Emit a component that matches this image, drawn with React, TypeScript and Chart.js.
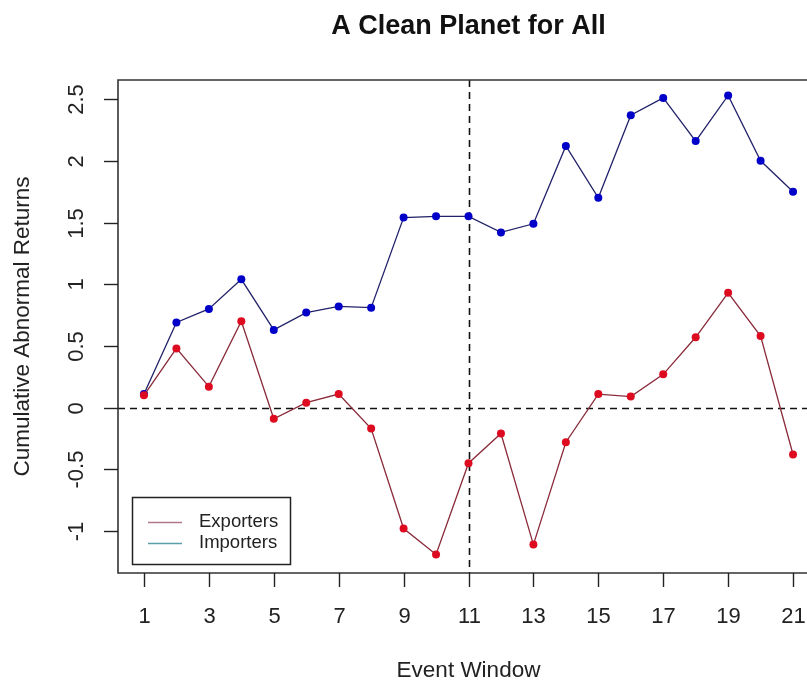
import React, { useEffect, useRef } from "react";
import { Chart, registerables } from "chart.js";

Chart.register(...registerables);

const titleText = "A Clean Planet for All";
const xTitle = "Event Window";
const yTitle = "Cumulative Abnormal Returns";
const eventWindow = [1, 2, 3, 4, 5, 6, 7, 8, 9, 10, 11, 12, 13, 14, 15, 16, 17, 18, 19, 20, 21];
const exporters = [0.1, 0.48, 0.17, 0.7, -0.09, 0.04, 0.11, -0.17, -0.98, -1.19, -0.45, -0.21, -1.11, -0.28, 0.11, 0.09, 0.27, 0.57, 0.93, 0.58, -0.38];
const importers = [0.11, 0.69, 0.8, 1.04, 0.63, 0.77, 0.82, 0.81, 1.54, 1.55, 1.55, 1.42, 1.49, 2.12, 1.7, 2.37, 2.51, 2.16, 2.53, 2.0, 1.75];
const xTicks = [1, 3, 5, 7, 9, 11, 13, 15, 17, 19, 21];
const yTicks = [-1, -0.5, 0, 0.5, 1, 1.5, 2, 2.5];
const yTickLabels = ["-1", "-0.5", "0", "0.5", "1", "1.5", "2", "2.5"];
const legendLabels = ["Exporters", "Importers"];
const legendColors = ["#b07888", "#5aa0aa"];
const eventDay = 11;

const FONT = "'Liberation Sans', Arial, sans-serif";

const framePlugin = {
  id: "rframe",
  beforeDatasetsDraw(chart: any) {
    const { ctx, chartArea } = chart;
    const xs = chart.scales.x;
    const ys = chart.scales.y;
    const { left, right, top, bottom } = chartArea;
    ctx.save();
    ctx.strokeStyle = "#111";
    ctx.lineWidth = 1.6;
    ctx.setLineDash([7, 5]);
    const y0 = Math.round(ys.getPixelForValue(0)) + 0.5;
    ctx.beginPath();
    ctx.moveTo(left, y0);
    ctx.lineTo(right, y0);
    ctx.stroke();
    const xv = Math.round(xs.getPixelForValue(eventDay)) + 0.5;
    ctx.beginPath();
    ctx.moveTo(xv, top);
    ctx.lineTo(xv, bottom);
    ctx.stroke();
    ctx.setLineDash([]);
    ctx.restore();
  },
  afterDraw(chart: any) {
    const { ctx, chartArea } = chart;
    const xs = chart.scales.x;
    const ys = chart.scales.y;
    const { left, right, top, bottom } = chartArea;
    ctx.save();
    ctx.strokeStyle = "#333";
    ctx.lineWidth = 1.6;
    ctx.beginPath();
    ctx.rect(left, top, right - left, bottom - top);
    ctx.stroke();
    ctx.strokeStyle = "#222";
    ctx.lineWidth = 1.4;
    ctx.fillStyle = "#222";
    ctx.font = `22px ${FONT}`;
    ctx.textAlign = "center";
    ctx.textBaseline = "middle";
    xTicks.forEach((t) => {
      const px = Math.round(xs.getPixelForValue(t)) + 0.5;
      ctx.beginPath();
      ctx.moveTo(px, bottom);
      ctx.lineTo(px, bottom + 14);
      ctx.stroke();
      ctx.fillText(String(t), px, bottom + 44);
    });
    yTicks.forEach((t, i) => {
      const py = Math.round(ys.getPixelForValue(t)) + 0.5;
      ctx.beginPath();
      ctx.moveTo(left, py);
      ctx.lineTo(left - 14, py);
      ctx.stroke();
      ctx.save();
      ctx.translate(left - 41, py);
      ctx.rotate(-Math.PI / 2);
      ctx.fillText(yTickLabels[i], 0, 0);
      ctx.restore();
    });
    const cx = (left + right) / 2;
    ctx.font = `bold 27px ${FONT}`;
    ctx.fillStyle = "#111";
    ctx.fillText(titleText, cx, 27);
    ctx.font = `22.5px ${FONT}`;
    ctx.fillStyle = "#222";
    ctx.fillText(xTitle, cx, 671);
    ctx.save();
    ctx.translate(23, (top + bottom) / 2);
    ctx.rotate(-Math.PI / 2);
    ctx.fillText(yTitle, 0, 0);
    ctx.restore();
    const lx = 132, ly = 497, lw = 158, lh = 67;
    ctx.fillStyle = "#fff";
    ctx.fillRect(lx, ly, lw, lh);
    ctx.strokeStyle = "#222";
    ctx.lineWidth = 1.5;
    ctx.strokeRect(lx + 0.5, ly + 0.5, lw, lh);
    ctx.font = `18.5px ${FONT}`;
    ctx.textAlign = "left";
    legendLabels.forEach((lab, i) => {
      const yy = 522 + i * 21;
      ctx.strokeStyle = legendColors[i];
      ctx.lineWidth = 1.4;
      ctx.beginPath();
      ctx.moveTo(148, yy + 0.5);
      ctx.lineTo(182, yy + 0.5);
      ctx.stroke();
      ctx.fillStyle = "#222";
      ctx.fillText(lab, 199, yy);
    });
    ctx.restore();
  },
};

export default function App() {
  const ref = useRef<HTMLCanvasElement>(null);
  useEffect(() => {
    if (!ref.current) return;
    const chart = new Chart(ref.current, {
      type: "line",
      data: {
        datasets: [
          {
            label: legendLabels[0],
            data: eventWindow.map((x, i) => ({ x, y: exporters[i] })),
            borderColor: "#8a2a3a",
            borderWidth: 1.3,
            pointBackgroundColor: "#dd0a20",
            pointBorderColor: "#dd0a20",
            pointRadius: 4,
            pointBorderWidth: 0,
            tension: 0,
          },
          {
            label: legendLabels[1],
            data: eventWindow.map((x, i) => ({ x, y: importers[i] })),
            borderColor: "#22226a",
            borderWidth: 1.3,
            pointBackgroundColor: "#0000c8",
            pointBorderColor: "#0000c8",
            pointRadius: 4,
            pointBorderWidth: 0,
            tension: 0,
          },
        ],
      },
      options: {
        animation: false,
        responsive: false,
        devicePixelRatio: 1,
        layout: { padding: { left: 118, right: 11, top: 80, bottom: 115 } },
        plugins: { legend: { display: false }, tooltip: { enabled: false }, title: { display: false } },
        scales: {
          x: { type: "linear", min: 0.2, max: 21.8, display: false },
          y: { type: "linear", min: -1.34, max: 2.655, display: false },
        },
      },
      plugins: [framePlugin],
    });
    return () => chart.destroy();
  }, []);
  return (
    <div style={{ position: "fixed", left: 0, top: 0, width: 807, height: 688, overflow: "hidden", background: "#fff" }}>
      <canvas ref={ref} width={830} height={688} style={{ display: "block" }} />
    </div>
  );
}
